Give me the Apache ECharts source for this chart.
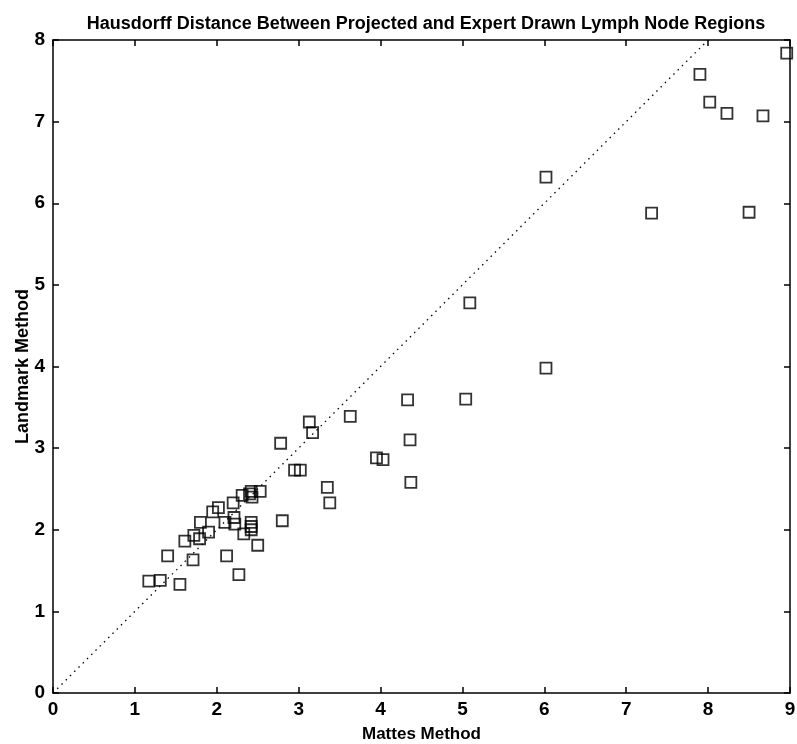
<!DOCTYPE html>
<html>
<head>
<meta charset="utf-8">
<script src="https://cdn.jsdelivr.net/npm/echarts@6/dist/echarts.min.js"></script>
<style>
html,body{margin:0;padding:0;background:#fff;}
#chart{width:797px;height:744px;}
</style>
</head>
<body>
<div id="chart"></div>
<script>
const titleText = 'Hausdorff Distance Between Projected and Expert Drawn Lymph Node Regions';
const xName = 'Mattes Method';
const yName = 'Landmark Method';
const xTicks = [0,1,2,3,4,5,6,7,8,9];
const yTicks = [0,1,2,3,4,5,6,7,8];

// Mattes method (x) values
const mattes = [1.17,1.31,1.40,1.55,1.61,1.71,1.72,1.79,1.80,1.90,1.95,2.02,2.10,2.12,2.20,2.21,2.22,2.27,2.31,2.33,2.40,2.42,2.42,2.42,2.42,2.43,2.53,2.50,2.78,2.80,2.95,3.02,3.13,3.17,3.35,3.38,3.63,3.95,4.03,4.33,4.36,4.37,5.04,5.09,6.02,6.02,7.31,7.90,8.02,8.23,8.67,8.50,8.96];
// Landmark method (y) values
const landmark = [1.37,1.38,1.68,1.33,1.86,1.63,1.93,1.89,2.09,1.97,2.22,2.27,2.09,1.68,2.33,2.15,2.07,1.45,2.42,1.95,2.44,2.47,2.09,2.04,2.00,2.40,2.47,1.81,3.06,2.11,2.73,2.73,3.32,3.19,2.52,2.33,3.39,2.88,2.86,3.59,3.10,2.58,3.60,4.78,6.32,3.98,5.88,7.58,7.24,7.10,7.07,5.89,7.84];
const diag = [[0,0],[8,8]];

const points = mattes.map((v,i)=>[v, landmark[i]]);

const chart = echarts.init(document.getElementById('chart'), null, {renderer:'canvas'});
const font = 'Liberation Sans, Arial, sans-serif';
const axisCommon = {
  min: 0,
  interval: 1,
  axisLine: {show:true, onZero:false, lineStyle:{color:'#000', width:1.5}},
  axisTick: {show:true, inside:true, length:6, lineStyle:{color:'#000', width:1.5}},
  splitLine: {show:false}
};
chart.setOption({
  backgroundColor:'#fff',
  animation:false,
  title:{
    text: titleText,
    left: 421, top: 10, textAlign:'center',
    textStyle:{fontFamily:font, fontSize:18, fontWeight:'bold', color:'#000'}
  },
  grid:{left:53, right:7, top:40, bottom:51, containLabel:false, outerBoundsMode:'none'},
  xAxis:[
    Object.assign({}, axisCommon, {
      type:'value', max:9, position:'bottom',
      name: xName, nameLocation:'middle', nameGap:33,
      nameTextStyle:{fontFamily:font, fontSize:17, fontWeight:'bold', color:'#000'},
      axisLabel:{fontFamily:font, fontSize:19, fontWeight:'bold', color:'#000', margin:7,
        formatter:(v)=> xTicks.includes(v) ? String(v) : ''}
    }),
    Object.assign({}, axisCommon, {
      type:'value', max:9, position:'top', axisLabel:{show:false}
    })
  ],
  yAxis:[
    Object.assign({}, axisCommon, {
      type:'value', max:8, position:'left',
      name: yName, nameLocation:'middle', nameGap:21, nameMoveOverlap:false,
      nameTextStyle:{fontFamily:font, fontSize:18, fontWeight:'bold', color:'#000'},
      axisLabel:{fontFamily:font, fontSize:19, fontWeight:'bold', color:'#000', margin:8,
        formatter:(v)=> yTicks.includes(v) ? String(v) : ''}
    }),
    Object.assign({}, axisCommon, {
      type:'value', max:8, position:'right', axisLabel:{show:false}
    })
  ],
  series:[
    {
      type:'line', data: diag, xAxisIndex:0, yAxisIndex:0,
      symbol:'none', silent:true,
      lineStyle:{color:'#000', width:1.3, type:[1.5,4.5]}
    },
    {
      type:'scatter', data: points, xAxisIndex:0, yAxisIndex:0,
      symbol:'rect', symbolSize:11,
      itemStyle:{color:'rgba(255,255,255,0)', borderColor:'#000', borderWidth:1.8}
    }
  ]
});
</script>
</body>
</html>
